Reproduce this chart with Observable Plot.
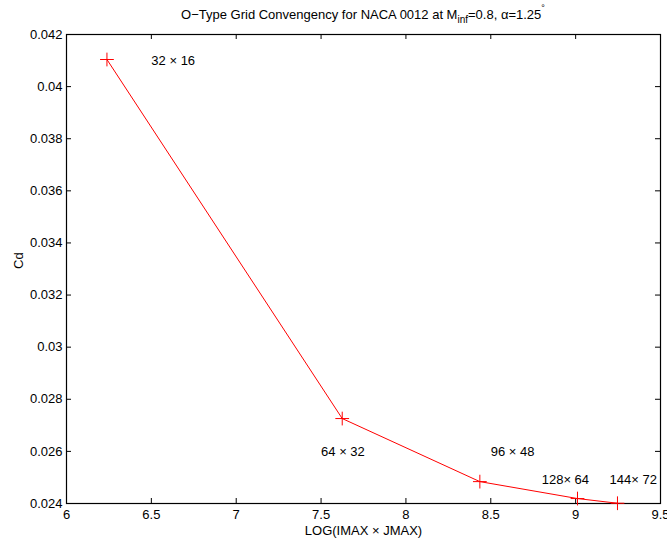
<!DOCTYPE html>
<html>
<head>
<meta charset="utf-8">
<script src="https://cdn.jsdelivr.net/npm/d3@7"></script>
<script src="https://cdn.jsdelivr.net/npm/@observablehq/plot@0.6"></script>
<style>
  html, body { margin: 0; padding: 0; background: #fff; }
  svg { font-family: "Liberation Sans", Arial, Helvetica, sans-serif; }
</style>
</head>
<body>
<div id="chart"></div>
<script>
// Grid sizes studied, and the drag coefficient obtained on each O-type grid
const grids = ["32 × 16", "64 × 32", "96 × 48", "128× 64", "144× 72"];
const imax = [32, 64, 96, 128, 144];
const jmax = [16, 32, 48, 64, 72];
const cd = [0.04104, 0.02726, 0.02484, 0.02419, 0.02401];

// Where each grid annotation sits (data coordinates, left-aligned)
const labelX = [6.5, 7.5, 8.5, 8.8, 9.2];
const labelY = [0.041, 0.026, 0.026, 0.0249, 0.0249];

const xTicks = [6, 6.5, 7, 7.5, 8, 8.5, 9, 9.5];
const yTicks = [0.024, 0.026, 0.028, 0.03, 0.032, 0.034, 0.036, 0.038, 0.04, 0.042];

const points = imax.map((im, i) => ({ x: Math.log(im * jmax[i]), y: cd[i] }));
const labels = grids.map((g, i) => ({ text: g, x: labelX[i], y: labelY[i] }));

const W = 667, H = 540;
const mt = 34, mb = 37, ml = 66, mr = 7;
const innerH = H - mt - mb, innerW = W - ml - mr;
const tick = 5;
const fs = 13;
const fmt = d => String(+d.toFixed(4));

const chart = Plot.plot({
  width: W,
  height: H,
  marginTop: mt,
  marginBottom: mb,
  marginLeft: ml,
  marginRight: mr,
  style: { fontFamily: "'Liberation Sans', Arial, sans-serif", fontSize: fs + "px", background: "white", color: "black", overflow: "visible" },
  x: { domain: [6, 9.5], ticks: xTicks, tickFormat: fmt, label: null },
  y: { domain: [0.024, 0.042], ticks: yTicks, tickFormat: fmt, label: null },
  marks: [
    Plot.axisX(xTicks, { tickSize: 0, tickPadding: 6, tickFormat: fmt, label: null, fontSize: fs }),
    Plot.axisY(yTicks, { tickSize: 0, tickPadding: 4, tickFormat: fmt, label: null, fontSize: fs }),
    // inward ticks on all four sides of the box
    Plot.ruleX(xTicks, { x: d => d, insetTop: innerH - tick, stroke: "black" }),
    Plot.ruleX(xTicks, { x: d => d, insetBottom: innerH - tick, stroke: "black" }),
    Plot.ruleY(yTicks, { y: d => d, insetRight: innerW - tick, stroke: "black" }),
    Plot.ruleY(yTicks, { y: d => d, insetLeft: innerW - tick, stroke: "black" }),
    Plot.frame({ stroke: "black", strokeWidth: 1.2 }),
    Plot.line(points, { x: "x", y: "y", stroke: "#ff0000", strokeWidth: 1 }),
    Plot.dot(points, { x: "x", y: "y", symbol: "plus", r: 4.5, stroke: "#ff0000", strokeWidth: 1 }),
    Plot.text(labels, { x: "x", y: "y", text: "text", textAnchor: "start", lineAnchor: "middle", fontSize: fs, fill: "black" }),
    // axis titles
    Plot.text(["LOG(IMAX × JMAX)"], { frameAnchor: "bottom", dy: 27, lineAnchor: "middle", fontSize: fs, fill: "black" }),
    Plot.text(["Cd"], { frameAnchor: "left", dx: -48, rotate: -90, lineAnchor: "middle", fontSize: fs, fill: "black" })
  ]
});

// chart title with subscript and superscript
const svg = d3.select(chart);
const title = svg.append("text")
  .attr("x", ml + innerW / 2)
  .attr("y", 19)
  .attr("text-anchor", "middle")
  .attr("font-size", fs)
  .attr("fill", "black");
title.append("tspan").text("O−Type Grid Convengency for NACA 0012 at M");
title.append("tspan").attr("dy", 4).attr("font-size", 10).text("inf");
title.append("tspan").attr("dy", -4).text("=0.8, α=1.25");
title.append("tspan").attr("dy", -8).attr("font-size", 9).text("°");

document.getElementById("chart").append(chart);
</script>
</body>
</html>
